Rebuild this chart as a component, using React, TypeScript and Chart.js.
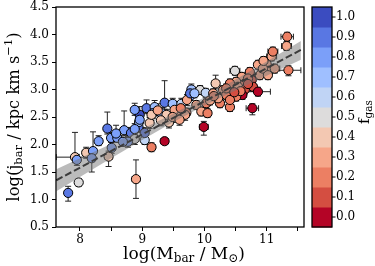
import React, { useEffect, useRef } from 'react';
import { Chart, registerables } from 'chart.js';
Chart.register(...registerables);

// log(M_bar / M_sun)
const logM = [7.81, 7.98, 7.92, 7.95, 8.1, 8.21, 8.19, 8.46, 8.51, 8.44, 8.5, 8.6, 8.3, 8.71, 8.82, 8.88, 8.94, 8.96, 8.95, 9.04, 9.15, 9.36, 8.77, 8.9, 8.69, 9.04, 8.88, 8.96, 9.07, 9.2, 9.17, 9.31, 9.12, 9.43, 9.36, 9.49, 9.63, 9.77, 9.79, 9.93, 10.02, 9.72, 9.87, 9.95, 9.71, 9.57, 9.99, 10.03, 10.05, 9.77, 8.88, 9.15, 9.39, 9.52, 9.69, 9.49, 9.6, 9.3,
  10.49, 10.6, 10.73, 10.86, 11.0, 11.03, 11.08, 11.1, 10.76, 10.65, 10.51, 10.41, 10.54, 10.78, 10.65, 10.86, 10.61, 10.77, 10.41, 10.25, 10.3, 10.18, 10.14, 10.09, 9.84, 10.51, 10.35, 10.22, 10.41, 10.89, 10.94, 11.33, 11.32, 11.13, 11.35, 11.02, 10.7, 10.58, 10.35, 10.48,
  8.58, 9.25, 9.62, 10.15, 10.7, 10.95];
// log(j_bar / kpc km s^-1)
const logJ = [1.12, 1.31, 1.77, 1.72, 1.85, 1.88, 1.75, 1.78, 1.94, 2.29, 2.12, 2.12, 2.06, 2.26, 2.21, 2.1, 2.32, 2.54, 2.41, 2.08, 1.95, 2.06, 2.05, 1.37, 2.05, 2.21, 2.28, 2.45, 2.66, 2.68, 2.57, 2.57, 2.39, 2.4, 2.76, 2.74, 2.74, 2.88, 3.0, 2.99, 2.94, 2.81, 2.72, 2.6, 2.58, 2.62, 2.32, 2.75, 2.57, 2.93, 2.63, 2.54, 2.54, 2.63, 2.54, 2.5, 2.45, 2.44,
  3.34, 3.23, 3.32, 3.45, 3.46, 3.34, 3.6, 3.69, 3.17, 3.11, 3.14, 3.11, 3.05, 3.05, 3.0, 2.96, 2.9, 2.66, 2.68, 2.75, 2.99, 3.11, 2.93, 2.8, 2.93, 2.87, 2.9, 2.84, 2.81, 3.26, 3.38, 3.96, 3.79, 3.38, 3.35, 3.26, 3.2, 2.97, 3.02, 2.95,
  2.2, 2.62, 2.66, 2.88, 3.1, 3.52];
// gas fraction
const fgas = [0.9, 0.5, 0.4, 0.75, 0.4, 0.75, 0.8, 0.4, 0.8, 0.9, 0.8, 0.75, 0.75, 0.75, 0.85, 0.5, 0.85, 0.95, 0.7, 0.6, 0.2, 0.0, 0.8, 0.3, 0.8, 0.85, 0.8, 0.8, 0.85, 0.7, 0.8, 0.7, 0.4, 0.35, 0.85, 0.65, 0.6, 0.8, 0.7, 0.5, 0.6, 0.3, 0.3, 0.3, 0.2, 0.3, 0.0, 0.2, 0.2, 0.9, 0.8, 0.35, 0.35, 0.3, 0.3, 0.25, 0.25, 0.4,
  0.45, 0.25, 0.15, 0.3, 0.25, 0.3, 0.25, 0.2, 0.1, 0.15, 0.25, 0.2, 0.3, 0.1, 0.1, 0.0, 0.0, 0.0, 0.15, 0.15, 0.25, 0.4, 0.25, 0.3, 0.65, 0.2, 0.2, 0.25, 0.15, 0.25, 0.3, 0.15, 0.3, 0.25, 0.2, 0.3, 0.2, 0.15, 0.15, 0.1,
  0.8, 0.3, 0.2, 0.2, 0.1, 0.3];
// error on log M
const errM = [0.04, 0.05, 0.3, 0.05, 0.06, 0.05, 0.05, 0.06, 0.05, 0.05, 0.05, 0.06, 0.05, 0.06, 0.05, 0.06, 0.05, 0.05, 0.05, 0.05, 0.06, 0.06, 0.05, 0.06, 0.05, 0.05, 0.05, 0.06, 0.05, 0.05, 0.05, 0.05, 0.05, 0.06, 0.05, 0.06, 0.05, 0.05, 0.06, 0.05, 0.06, 0.05, 0.05, 0.06, 0.06, 0.05, 0.07, 0.06, 0.06, 0.05, 0.05, 0.05, 0.05, 0.05, 0.05, 0.05, 0.05, 0.05,
  0.08, 0.06, 0.06, 0.06, 0.06, 0.06, 0.08, 0.08, 0.06, 0.06, 0.06, 0.06, 0.06, 0.06, 0.06, 0.2, 0.06, 0.1, 0.06, 0.06, 0.06, 0.06, 0.06, 0.06, 0.06, 0.06, 0.06, 0.06, 0.06, 0.06, 0.06, 0.1, 0.08, 0.08, 0.2, 0.06, 0.06, 0.06, 0.06, 0.06,
  0.05, 0.05, 0.05, 0.06, 0.06, 0.06];
// lower / upper error on log j
const errJlo = [0.15, 0.07, 0.1, 0.1, 0.1, 0.12, 0.25, 0.18, 0.1, 0.1, 0.08, 0.08, 0.08, 0.1, 0.1, 0.1, 0.1, 0.1, 0.1, 0.08, 0.08, 0.06, 0.1, 0.35, 0.08, 0.1, 0.1, 0.1, 0.1, 0.12, 0.1, 0.1, 0.1, 0.1, 0.12, 0.1, 0.1, 0.08, 0.08, 0.08, 0.08, 0.1, 0.08, 0.08, 0.08, 0.1, 0.15, 0.08, 0.08, 0.08, 0.1, 0.1, 0.1, 0.1, 0.1, 0.1, 0.1, 0.1,
  0.08, 0.08, 0.08, 0.08, 0.08, 0.08, 0.08, 0.08, 0.08, 0.08, 0.08, 0.08, 0.08, 0.08, 0.08, 0.08, 0.08, 0.12, 0.08, 0.08, 0.08, 0.1, 0.08, 0.08, 0.08, 0.08, 0.08, 0.08, 0.08, 0.08, 0.08, 0.08, 0.08, 0.08, 0.1, 0.08, 0.08, 0.08, 0.08, 0.08,
  0.1, 0.1, 0.08, 0.08, 0.08, 0.08];
const errJhi = [0.12, 0.07, 0.45, 0.1, 0.1, 0.35, 0.1, 0.1, 0.1, 0.3, 0.1, 0.08, 0.1, 0.35, 0.1, 0.1, 0.15, 0.15, 0.1, 0.08, 0.08, 0.06, 0.1, 0.35, 0.08, 0.1, 0.1, 0.12, 0.15, 0.12, 0.1, 0.1, 0.1, 0.1, 0.4, 0.1, 0.1, 0.08, 0.1, 0.08, 0.08, 0.1, 0.08, 0.08, 0.08, 0.1, 0.1, 0.08, 0.08, 0.08, 0.12, 0.1, 0.1, 0.1, 0.1, 0.1, 0.1, 0.1,
  0.08, 0.08, 0.08, 0.08, 0.08, 0.08, 0.08, 0.08, 0.08, 0.08, 0.08, 0.08, 0.08, 0.08, 0.08, 0.08, 0.08, 0.08, 0.08, 0.08, 0.08, 0.15, 0.08, 0.08, 0.08, 0.08, 0.08, 0.08, 0.08, 0.08, 0.08, 0.08, 0.08, 0.08, 0.08, 0.08, 0.08, 0.08, 0.08, 0.08,
  0.15, 0.12, 0.08, 0.08, 0.08, 0.08];

// best fit line and its band
const fitX = [7.62, 11.55];
const fitY = [1.35, 3.72];
const bandX = [7.62, 8.0, 8.5, 9.0, 9.5, 10.0, 10.5, 11.0, 11.55];
const bandLo = [1.15, 1.41, 1.75, 2.08, 2.41, 2.71, 2.98, 3.25, 3.54];
const bandHi = [1.55, 1.75, 2.01, 2.28, 2.56, 2.86, 3.18, 3.51, 3.88];

// ticks
const xTicks = [8, 8.5, 9, 9.5, 10, 10.5, 11, 11.5];
const yTicks = [0.5, 1.0, 1.5, 2.0, 2.5, 3.0, 3.5, 4.0, 4.5];
const cbTicks = [0, 0.1, 0.2, 0.3, 0.4, 0.5, 0.6, 0.7, 0.8, 0.9, 1.0];
const cbColors = ['#b40426', '#d44e41', '#ec7f63', '#f6a689', '#f3c8b2', '#dddcdc', '#c0d4f5', '#9fbfff', '#7b9ff9', '#5977e3', '#3b4cc0'];

const SERIF = '"DejaVu Serif", serif';

function colorFor(f: number) {
  return cbColors[Math.max(0, Math.min(10, Math.round(f * 10)))];
}

type Seg = { t: string; s: number; dy?: number };

function drawSegs(ctx: CanvasRenderingContext2D, segs: Seg[], cx: number, cy: number, rot: number) {
  ctx.save();
  ctx.translate(cx, cy);
  ctx.rotate(rot);
  ctx.textBaseline = 'alphabetic';
  ctx.textAlign = 'left';
  let total = 0;
  for (const g of segs) {
    ctx.font = `${g.s}px ${SERIF}`;
    total += ctx.measureText(g.t).width;
  }
  let x = -total / 2;
  for (const g of segs) {
    ctx.font = `${g.s}px ${SERIF}`;
    ctx.fillStyle = '#000';
    ctx.fillText(g.t, x, 5 + (g.dy || 0));
    x += ctx.measureText(g.t).width;
  }
  ctx.restore();
}

const decorPlugin = {
  id: 'decor',
  beforeDatasetDraw(chart: any, args: any) {
    if (args.index !== 3) return;
    const ctx = chart.ctx;
    const xs = chart.scales.x, ys = chart.scales.y;
    ctx.save();
    ctx.strokeStyle = '#222';
    ctx.lineWidth = 1;
    for (let i = 0; i < logM.length; i++) {
      const px = xs.getPixelForValue(logM[i]);
      const py = ys.getPixelForValue(logJ[i]);
      const x0 = xs.getPixelForValue(logM[i] - errM[i]);
      const x1 = xs.getPixelForValue(logM[i] + errM[i]);
      const y0 = ys.getPixelForValue(logJ[i] - errJlo[i]);
      const y1 = ys.getPixelForValue(logJ[i] + errJhi[i]);
      ctx.beginPath();
      ctx.moveTo(x0, py); ctx.lineTo(x1, py);
      ctx.moveTo(x0, py - 3); ctx.lineTo(x0, py + 3);
      ctx.moveTo(x1, py - 3); ctx.lineTo(x1, py + 3);
      ctx.moveTo(px, y0); ctx.lineTo(px, y1);
      ctx.moveTo(px - 3, y0); ctx.lineTo(px + 3, y0);
      ctx.moveTo(px - 3, y1); ctx.lineTo(px + 3, y1);
      ctx.stroke();
    }
    ctx.restore();
  },
  afterDraw(chart: any) {
    const ctx = chart.ctx;
    const a = chart.chartArea;
    ctx.save();
    ctx.strokeStyle = '#000';
    ctx.lineWidth = 1.3;
    ctx.strokeRect(a.left, a.top, a.right - a.left, a.bottom - a.top);
    // colorbar
    const cb = chart.scales.cb;
    const cl = cb.left + 8, cw = 20;
    for (let i = 0; i < cbTicks.length; i++) {
      const t = cb.getPixelForValue(cbTicks[i] + 0.05);
      const b = cb.getPixelForValue(cbTicks[i] - 0.05);
      ctx.fillStyle = cbColors[i];
      ctx.fillRect(cl, t, cw, b - t + 0.5);
    }
    const top = cb.getPixelForValue(1.05), bot = cb.getPixelForValue(-0.05);
    ctx.strokeRect(cl, top, cw, bot - top);
    ctx.lineWidth = 1;
    ctx.beginPath();
    for (const v of cbTicks) {
      const y = cb.getPixelForValue(v);
      ctx.moveTo(cl + cw, y); ctx.lineTo(cl + cw + 3.5, y);
    }
    ctx.stroke();
    // titles
    drawSegs(ctx, [{ t: 'log(j', s: 16.3 }, { t: 'bar', s: 11.5, dy: 3 }, { t: ' / kpc km s', s: 16.3 }, { t: '\u22121', s: 11.5, dy: -7 }, { t: ')', s: 16.3 }], 14, 117, -Math.PI / 2);
    drawSegs(ctx, [{ t: 'log(M', s: 17 }, { t: 'bar', s: 12, dy: 3 }, { t: ' / M', s: 17 }, { t: '\u2299', s: 12, dy: 3 }, { t: ')', s: 17 }], 184, 254, 0);
    drawSegs(ctx, [{ t: 'f', s: 15 }, { t: 'gas', s: 10.5, dy: 3 }], 364, 112, -Math.PI / 2);
    ctx.restore();
  },
};

export default function App() {
  const ref = useRef<HTMLCanvasElement | null>(null);
  useEffect(() => {
    if (!ref.current) return;
    const tickFont = { family: SERIF, size: 12 };
    const chart = new Chart(ref.current, {
      type: 'scatter',
      data: {
        datasets: [
          { type: 'line', data: bandX.map((x, i) => ({ x, y: bandLo[i] })), borderWidth: 0, pointRadius: 0, fill: false, borderColor: 'rgba(0,0,0,0)' } as any,
          { type: 'line', data: bandX.map((x, i) => ({ x, y: bandHi[i] })), borderWidth: 0, pointRadius: 0, fill: '-1', backgroundColor: 'rgba(120,120,120,0.5)', borderColor: 'rgba(0,0,0,0)' } as any,
          { type: 'line', data: fitX.map((x, i) => ({ x, y: fitY[i] })), borderWidth: 2, borderColor: '#000', borderDash: [7, 3], pointRadius: 0, fill: false } as any,
          {
            type: 'scatter',
            data: logM.map((x, i) => ({ x, y: logJ[i] })),
            pointRadius: 4.6,
            pointBackgroundColor: fgas.map(colorFor),
            pointBorderColor: '#000',
            pointBorderWidth: 1,
          } as any,
        ],
      },
      options: {
        responsive: false,
        animation: false,
        layout: { padding: { top: 7, left: 0, right: 0, bottom: 0 }, autoPadding: false },
        plugins: { legend: { display: false }, tooltip: { enabled: false } },
        scales: {
          x: {
            type: 'linear', min: 7.615, max: 11.6,
            afterBuildTicks: (s: any) => { s.ticks = xTicks.map((v) => ({ value: v })); },
            afterFit: (s: any) => { s.height = 39; s.paddingLeft = 0; s.paddingRight = 0; },
            ticks: { callback: (v: any) => (Number.isInteger(v) ? String(v) : ''), font: tickFont, color: '#000', maxRotation: 0, autoSkip: false, padding: 2 },
            grid: { drawOnChartArea: false, drawTicks: true, tickLength: 4, color: '#000' },
            border: { display: false },
          },
          y: {
            type: 'linear', min: 0.5, max: 4.5,
            afterBuildTicks: (s: any) => { s.ticks = yTicks.map((v) => ({ value: v })); },
            afterFit: (s: any) => { s.width = 56; s.paddingTop = 0; s.paddingBottom = 0; },
            ticks: { callback: (v: any) => Number(v).toFixed(1), font: tickFont, color: '#000', padding: 3 },
            grid: { drawOnChartArea: false, drawTicks: true, tickLength: 4, color: '#000' },
            border: { display: false },
          },
          cb: {
            type: 'linear', axis: 'y', position: 'right', min: -0.05, max: 1.05,
            afterBuildTicks: (s: any) => { s.ticks = cbTicks.map((v) => ({ value: v })); },
            afterFit: (s: any) => { s.width = 71; s.paddingTop = 0; s.paddingBottom = 0; },
            ticks: { callback: (v: any) => Number(v).toFixed(1), font: tickFont, color: '#000', padding: 3 },
            grid: { drawOnChartArea: false, drawTicks: true, tickLength: 29, tickColor: 'rgba(0,0,0,0)' },
            border: { display: false },
          },
        },
      } as any,
      plugins: [decorPlugin],
    });
    return () => chart.destroy();
  }, []);
  return (
    <div style={{ position: 'fixed', left: 0, top: 0, width: 375, height: 266, background: '#fff' }}>
      <canvas ref={ref} width={375} height={266} style={{ display: 'block' }} />
    </div>
  );
}
